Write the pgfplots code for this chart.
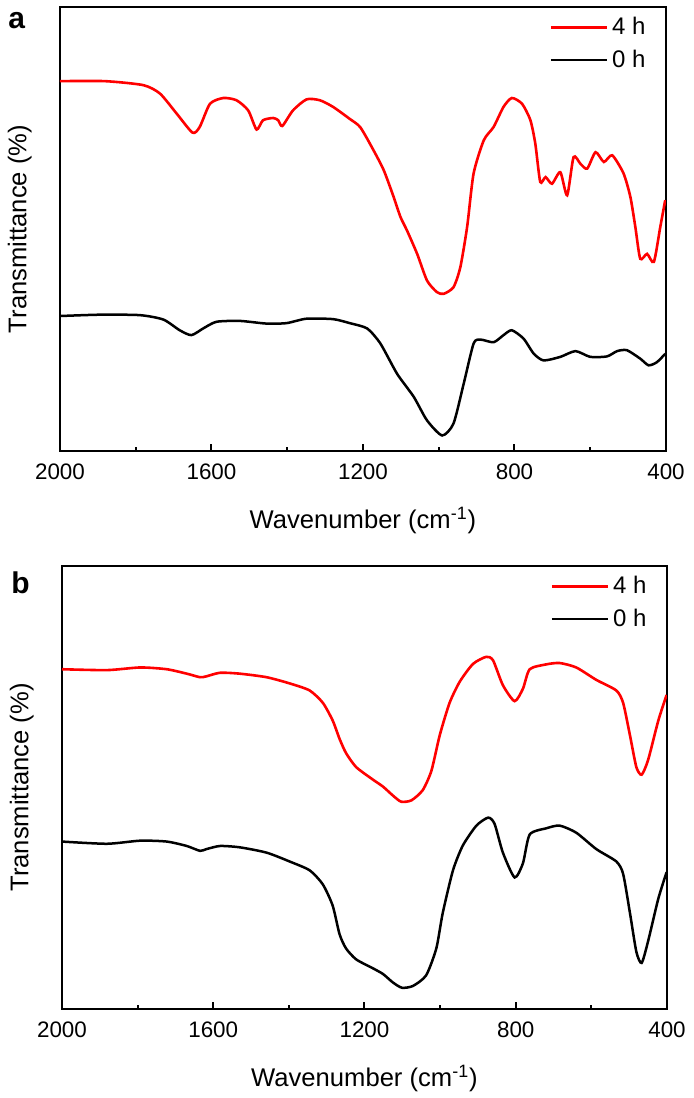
\documentclass[border=0pt]{standalone}
\usepackage{fontspec}
\setmainfont{Liberation Sans}
\usepackage{pgfplots}
\pgfplotsset{compat=1.18}

% 1 px of the reference = 0.5pt
\pgfplotsset{ftir/.style={
    width=303pt, height=222pt, scale only axis,
    x dir=reverse, xmin=400, xmax=2000, ymin=0, ymax=100,
    xtick={400,800,...,2000}, minor xtick={600,1000,1400,1800},
    ytick=\empty, xtick pos=lower, tick align=inside,
    major tick length=3.5pt, minor tick length=2pt,
    every tick/.style={black, line width=1pt},
    axis line style={line width=1pt},
    tick label style={font=\fontsize{11.2}{13}\selectfont},
    /pgf/number format/assume math mode=true,
    /pgf/number format/1000 sep={},
    xticklabel style={yshift=-3pt},
    xlabel={Wavenumber (cm\textsuperscript{-1})},
    ylabel={Transmittance (\%)},
    every axis x label/.style={at={(axis description cs:0.5,0)}, anchor=base, yshift=-38.5pt,
        font=\fontsize{12.8}{14}\selectfont},
    every axis y label/.style={at={(axis description cs:-0.0462,0.5)}, rotate=90, anchor=south,
        inner sep=0pt, font=\fontsize{12.8}{14}\selectfont},
    legend style={draw=none, fill=none, at={(axis description cs:1,1)}, anchor=north east,
        xshift=-5pt, yshift=-1pt, font=\fontsize{12}{14}\selectfont, row sep=2pt},
    legend cell align=left,
    legend image code/.code={\draw[#1] (0pt,0pt) -- (28pt,0pt);},
    red line/.style={color=red, line width=1.3pt, smooth, tension=0.4},
    black line/.style={color=black, line width=1.25pt, smooth, tension=0.4},
}}

\begin{document}
\begin{tikzpicture}
\useasboundingbox (-30pt,3.5pt) rectangle (316.5pt,-545.5pt);

% ---------------- panel a ----------------
\begin{axis}[ftir, at={(0pt,0pt)}, anchor=north west]
\addplot[red line] coordinates {
(2000,83.3) (1881,83.3) (1780,82.4) (1736,80.5) (1692,76.0) (1650,71.7)
(1631,73.0) (1604,78.2) (1569,79.5) (1534,79.0) (1503,76.7) (1481,72.4)
(1464,74.5) (1437,75.0) (1424,74.5) (1413,73.2) (1385,76.7) (1349,79.2)
(1314,79.0) (1279,77.5) (1235,74.8) (1207,72.9) (1172,67.7) (1145,63.2)
(1119,57.2) (1101,52.7) (1084,49.7) (1057,44.4) (1031,38.4) (1005,35.8)
(987,35.4) (961,36.9) (943,41.4) (925,50.5) (908,62.5) (881,70.0)
(855,73.0) (829,77.5) (807,79.5) (780,78.2) (758,74.5) (745,69.2)
(732,60.6) (718,61.7) (701,60.2) (679,62.8) (661,57.6) (644,66.2)
(626,64.7) (608,63.6) (586,67.3) (564,65.1) (542,66.6) (512,62.5)
(494,57.2) (481,50.5) (468,43.3) (450,44.4) (432,42.6) (415,50.5) (402,56.5)
};
\addlegendentry{4 h}
\addplot[black line] coordinates {
(2000,30.4) (1895,30.7) (1789,30.6) (1727,29.6) (1684,27.2) (1653,26.1)
(1622,27.6) (1587,29.1) (1525,29.3) (1455,28.7) (1402,28.8) (1349,29.8)
(1279,29.7) (1235,28.8) (1189,27.6) (1154,24.2) (1110,17.4) (1066,12.2)
(1031,6.9) (991,3.5) (961,6.2) (934,15.2) (908,24.2) (890,25.1)
(855,24.5) (829,26.1) (807,27.2) (776,25.3) (749,21.9) (723,20.4)
(679,21.2) (639,22.5) (600,21.2) (556,21.3) (529,22.5) (503,22.7)
(468,20.8) (446,19.3) (424,20.0) (402,21.9)
};
\addlegendentry{0 h}
\end{axis}
\node[anchor=base west, inner sep=0pt, font=\bfseries\fontsize{15}{17}\selectfont] at (-26pt,-10.5pt) {a};

% ---------------- panel b ----------------
\begin{axis}[ftir, at={(1pt,-279.5pt)}, anchor=north west, width=302.5pt, height=221.5pt]
\addplot[red line] coordinates {
(2000,76.7) (1881,76.5) (1793,77.1) (1723,76.7) (1670,75.7) (1635,74.9)
(1618,75.1) (1582,75.9) (1530,75.7) (1459,74.9) (1398,73.5) (1345,71.9)
(1310,69.1) (1284,65.1) (1266,61.0) (1249,57.8) (1222,54.6) (1178,51.8)
(1151,50.2) (1125,48.2) (1103,46.8) (1076,47.1) (1046,49.4) (1023,53.8)
(1001,61.8) (975,69.1) (948,73.9) (913,77.9) (878,79.5) (860,78.7)
(834,73.1) (803,69.5) (781,72.3) (763,76.7) (719,77.8) (684,78.1)
(640,77.1) (587,74.3) (534,71.9) (516,69.1) (498,61.8) (481,54.6)
(467,52.9) (450,56.2) (423,65.1) (401,70.9)
};
\addlegendentry{4 h}
\addplot[black line] coordinates {
(2000,37.8) (1881,37.3) (1793,38.0) (1723,37.8) (1670,36.8) (1635,35.7)
(1618,36.1) (1582,36.8) (1530,36.5) (1459,35.3) (1398,33.3) (1345,31.3)
(1310,28.1) (1284,23.3) (1266,16.9) (1249,13.7) (1222,11.2) (1178,9.2)
(1151,7.9) (1125,6.0) (1101,4.8) (1072,5.2) (1037,7.6) (1010,13.7)
(993,21.7) (966,31.3) (940,36.9) (904,41.4) (873,43.2) (856,41.8)
(834,35.3) (803,29.7) (781,32.9) (763,39.4) (719,40.8) (684,41.4)
(640,39.8) (587,36.1) (534,33.3) (516,30.5) (498,21.7) (481,12.9)
(467,10.4) (450,15.3) (423,24.9) (401,30.9)
};
\addlegendentry{0 h}
\end{axis}
\node[anchor=base west, inner sep=0pt, font=\bfseries\fontsize{15}{17}\selectfont] at (-24.5pt,-293pt) {b};
\end{tikzpicture}
\end{document}
